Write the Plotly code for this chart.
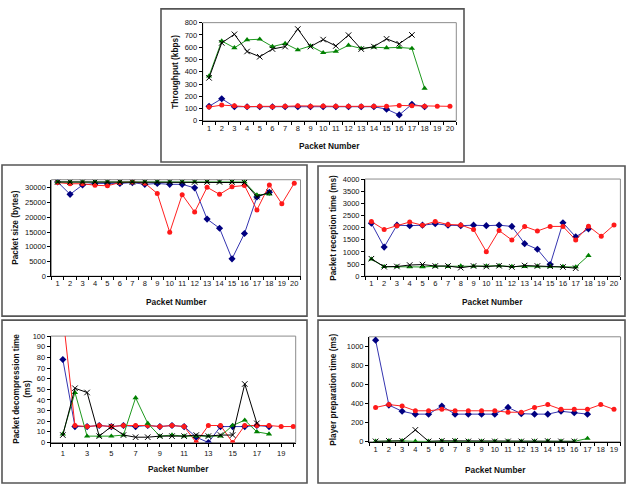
import plotly.graph_objects as go

W, H = 628, 491

# ---------------- data ----------------
thr_blue  = [118, 180, 115, 115, 115, 115, 115, 115, 115, 115, 115, 115, 115, 115, 95, 48, 135, 115]
thr_red   = [112, 128, 122, 115, 118, 115, 118, 122, 118, 120, 118, 118, 118, 118, 118, 125, 122, 118, 118, 118]
thr_green = [365, 650, 595, 660, 665, 605, 630, 578, 610, 555, 565, 615, 590, 600, 595, 598, 590, 265]
thr_black = [350, 635, 705, 565, 522, 585, 605, 748, 605, 662, 610, 698, 585, 605, 668, 628, 700]

size_blue  = [32000, 27800, 31000, 31500, 31500, 31500, 31800, 31200, 31500, 31200, 31200, 30000, 19400, 16300, 5900, 14500, 26900, 28500]
size_red   = [31800, 31400, 31400, 30900, 30700, 31800, 32000, 31600, 28100, 14900, 27700, 21800, 30200, 27800, 30400, 30800, 22500, 31000, 24600, 31600]
size_green = [32000, 32000, 32000, 32000, 32000, 32000, 32000, 32000, 32000, 32000, 32000, 32000, 32000, 32000, 32000, 32000, 27600, 27900]
size_black = [32000, 32000, 32000, 32000, 32000, 32000, 32000, 32000, 32000, 32000, 32000, 32000, 32000, 32000, 32000, 31800, 27000, 28500]

recv_blue  = [2180, 1200, 2100, 2080, 2100, 2160, 2100, 2080, 2100, 2080, 2100, 2050, 1340, 1110, 480, 2200, 1620, 1950]
recv_red   = [2250, 1920, 2080, 2230, 2100, 2250, 2130, 2110, 1920, 1010, 1880, 1490, 2050, 1860, 2050, 2050, 1490, 2060, 1650, 2110]
recv_green = [700, 390, 390, 380, 380, 410, 400, 420, 410, 420, 430, 400, 400, 410, 400, 400, 380, 850]
recv_black = [720, 390, 400, 460, 480, 420, 420, 350, 420, 400, 430, 380, 440, 420, 410, 380, 330]

dec_blue  = [78, 15, 15, 16, 15, 16, 15, 16, 15, 16, 15, 5, 0, 15, 15, 15, 16, 15]
dec_red   = [120, 16, 15, 16, 15, 16, 16, 16, 15, 16, 15, 0, 16, 16, 0, 16, 16, 16, 15, 15]
dec_green = [8, 47, 6, 6, 6, 7, 42, 18, 6, 7, 6, 6, 6, 6, 16, 21, 10, 8]
dec_black = [7, 51, 47, 6, 15, 7, 5, 5, 6, 6, 6, 7, 6, 7, 7, 55, 18]

prep_blue  = [1065, 385, 320, 290, 290, 375, 290, 290, 290, 290, 360, 295, 290, 290, 320, 305, 290]
prep_red   = [360, 390, 375, 325, 325, 340, 325, 325, 325, 325, 310, 310, 360, 390, 340, 340, 340, 390, 340]
prep_green = [5, 10, 10, 5, 5, 8, 10, 5, 5, 5, 5, 5, 5, 8, 5, 5, 35]
prep_black = [5, 10, 10, 125, 5, 10, 10, 5, 5, 5, 5, 5, 5, 8, 5, 5]

y_titles = ["Throughput (kbps)", "Packet size (bytes)", "Packet reception time (ms)",
            "Packet decompression time<br>(ms)", "Player preparation time (ms)"]
x_title = "Packet Number"

# ---------------- layout helpers ----------------
def X(p):
    return p / W

def Y(p):
    return 1 - p / H

FONT = "Liberation Sans, Arial, sans-serif"

# plot areas in pixels: (left, top, right, bottom)
plots = [
    (202.7, 19, 456.3, 119),
    (51.4, 179, 300.5, 277.3),
    (365, 178.3, 620.4, 277.3),
    (50.7, 338.3, 295.7, 446.7),
    (369, 339, 620.6, 446),
]
panels = [
    (161, 5, 464, 161),
    (2, 164, 307, 318),
    (318, 165, 625, 318),
    (2, 322, 307, 488),
    (318, 322, 625, 488),
]
yranges = [(0, 800, 100), (0, 32768, 5000), (0, 4000, 500), (0, 100, 10), (0, 1100, 200)]
ncats = [20, 20, 20, None, 19]

series_sets = [
    (thr_blue, thr_red, thr_green, thr_black),
    (size_blue, size_red, size_green, size_black),
    (recv_blue, recv_red, recv_green, recv_black),
    (dec_blue, dec_red, dec_green, dec_black),
    (prep_blue, prep_red, prep_green, prep_black),
]

styles = [
    dict(line=dict(color="#3535b0", width=1), marker=dict(symbol="diamond", size=5.5, color="#000080")),
    dict(line=dict(color="#ff2020", width=1), marker=dict(symbol="circle", size=5, color="#ff1a1a")),
    dict(line=dict(color="#1f991f", width=1), marker=dict(symbol="triangle-up", size=5.5, color="#008000")),
    dict(line=dict(color="#000000", width=1), marker=dict(symbol="x-thin", size=5.5, color="#000000",
                                                          line=dict(width=1, color="#000000"))),
]

fig = go.Figure()
shapes = []
annotations = []
layout_axes = {}

for i in range(5):
    n = i + 1
    xa = "x" if n == 1 else f"x{n}"
    ya = "y" if n == 1 else f"y{n}"
    xkey = "xaxis" if n == 1 else f"xaxis{n}"
    ykey = "yaxis" if n == 1 else f"yaxis{n}"
    l, t, r, b = plots[i]

    for s, st in zip(series_sets[i], styles):
        xs = list(range(1, len(s) + 1))
        fig.add_trace(go.Scatter(x=xs, y=s, mode="lines+markers", xaxis=xa, yaxis=ya,
                                 line=st["line"], marker=st["marker"], showlegend=False,
                                 cliponaxis=True))

    tickfont = dict(family=FONT, size=7.5, color="#111")
    if ncats[i] is not None:
        N = ncats[i]
        xaxis = dict(domain=[X(l), X(r)], anchor=ya, range=[0.5, N + 0.5],
                     tickmode="array", tickvals=list(range(1, N + 1)),
                     ticktext=[str(k) for k in range(1, N + 1)], ticks="",
                     minor=dict(tickmode="array", tickvals=[k + 0.5 for k in range(0, N + 1)],
                                ticks="outside", ticklen=3, tickcolor="#000", tickwidth=1),
                     showline=True, linecolor="#000", linewidth=1, showgrid=False, zeroline=False,
                     tickfont=tickfont, fixedrange=True)
    else:
        xaxis = dict(domain=[X(l), X(r)], anchor=ya, range=[0, 20.2],
                     tickmode="array", tickvals=list(range(1, 20, 2)),
                     ticks="outside", ticklen=3, tickcolor="#000",
                     minor=dict(tickmode="array", tickvals=list(range(0, 21)),
                                ticks="outside", ticklen=3, tickcolor="#000", tickwidth=1),
                     showline=True, linecolor="#000", linewidth=1, showgrid=False, zeroline=False,
                     tickfont=tickfont, fixedrange=True)
    y0, y1, dy = yranges[i]
    yaxis = dict(domain=[Y(b), Y(t)], anchor=xa, range=[y0, y1],
                 tickmode="linear", tick0=0, dtick=dy, ticks="outside", ticklen=3,
                 tickformat="d", exponentformat="none",
                 tickcolor="#000", showline=True, linecolor="#000", linewidth=1,
                 showgrid=False, zeroline=False, tickfont=tickfont, fixedrange=True)
    layout_axes[xkey] = xaxis
    layout_axes[ykey] = yaxis

    # plot-area border (gray)
    shapes.append(dict(type="rect", xref="paper", yref="paper", x0=X(l), x1=X(r), y0=Y(b), y1=Y(t),
                       line=dict(color="#8c8c8c", width=1), layer="below"))
    # panel border
    pl, pt, pr, pb = panels[i]
    shapes.append(dict(type="rect", xref="paper", yref="paper", x0=X(pl), x1=X(pr), y0=Y(pb), y1=Y(pt),
                       line=dict(color="#555555", width=1.6), layer="below"))

# axis titles
tfont = dict(family=FONT, size=8.3, color="#111")
xt_pos = [(329.5, 145), (176, 304), (492.5, 303.3), (178, 474), (495, 474.3)]
yt_pos = [(175, 69), (15, 228), (333, 228), (22, 392), (333, 393)]
for i in range(5):
    xp, yp = xt_pos[i]
    annotations.append(dict(text="<b>" + x_title + "</b>", xref="paper", yref="paper",
                            x=X(xp), y=Y(yp), xanchor="center", yanchor="middle",
                            showarrow=False, font=tfont))
    xp, yp = yt_pos[i]
    annotations.append(dict(text="<b>" + y_titles[i] + "</b>", xref="paper", yref="paper",
                            x=X(xp), y=Y(yp), xanchor="center", yanchor="middle",
                            showarrow=False, font=tfont, textangle=-90))

fig.update_layout(width=W, height=H, margin=dict(l=0, r=0, t=0, b=0),
                  paper_bgcolor="white", plot_bgcolor="white",
                  shapes=shapes, annotations=annotations, **layout_axes)

fig.write_html("out.html", config={"displayModeBar": False})
